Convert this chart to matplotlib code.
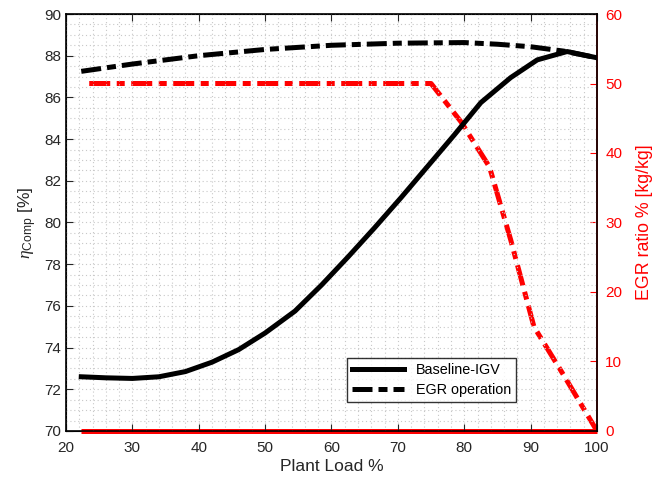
import matplotlib.pyplot as plt
import numpy as np

plt.rcParams['font.family'] = ['Liberation Sans', 'DejaVu Sans']
plt.rcParams['mathtext.fontset'] = 'custom'
plt.rcParams['mathtext.rm'] = 'Liberation Sans'
plt.rcParams['mathtext.it'] = 'Liberation Serif:italic'

# dados
load_base = [22.3, 26, 30, 34, 38, 42, 46, 50, 54.5, 58.5, 62.5, 66.5, 70.5,
             74.5, 78.5, 82.5, 87, 91, 95.5, 100]
eta_base = [72.6, 72.55, 72.52, 72.6, 72.85, 73.3, 73.9, 74.7, 75.75, 77.0,
            78.35, 79.75, 81.2, 82.7, 84.2, 85.75, 86.95, 87.8, 88.2, 87.9]

load_egr = [22.3, 30, 40, 50, 60, 70, 80, 85, 90, 95, 100]
eta_egr = [87.25, 87.6, 88.0, 88.3, 88.5, 88.6, 88.63, 88.55, 88.43, 88.22, 87.9]

load_ratio = [23.5, 75, 79.5, 83.8, 87, 90.5, 95, 100]
egr_ratio = [50, 50, 44.5, 38, 27.5, 15, 8, 0]

load_zero = [22.3, 100]
ratio_zero = [0, 0]

fig = plt.figure(figsize=(6.62, 4.83), dpi=100)
ax = fig.add_axes([0.0997, 0.1077, 0.8021, 0.8633])

dashdot = (0, (4, 1.2, 1.8, 1.2))
ax.plot(load_base, eta_base, color='black', lw=3.6, label='Baseline-IGV',
        solid_joinstyle='round', zorder=3)
ax.plot(load_egr, eta_egr, color='black', lw=3.6, ls=dashdot,
        label='EGR operation', zorder=3)

ax.set_xlim(20, 100)
ax.set_ylim(70, 90)
ax.set_xticks(np.arange(20, 101, 10))
ax.set_yticks(np.arange(70, 91, 2))
ax.set_xticks(np.arange(20, 101, 2), minor=True)
ax.set_yticks(np.arange(70, 90.1, 0.5), minor=True)
ax.grid(True, which='both', color='#c8c8c8', ls=(0, (1, 2.5)), lw=0.8)
ax.tick_params(which='major', direction='in', length=5, top=True,
               labelsize=11, colors='#262626')
ax.tick_params(axis='x', which='major', pad=7)
ax.tick_params(which='minor', length=0)
ax.set_xlabel('Plant Load %', fontsize=12.5, color='#262626', labelpad=3)
ax.set_ylabel(r'$\eta_{\rm Comp}$ [%]', fontsize=12.5, color='#262626')
for s in ax.spines.values():
    s.set_linewidth(1.2)

ax2 = ax.twinx()
ax2.plot(load_zero, ratio_zero, color='red', lw=3.6, zorder=3,
         solid_capstyle='butt', clip_on=False)
ax2.plot(load_ratio, egr_ratio, color='red', lw=3.6,
         ls=(0, (4.2, 1.3, 1.6, 1.3)), zorder=3)
ax2.set_ylim(0, 60)
ax2.set_yticks(np.arange(0, 61, 10))
ax2.tick_params(direction='in', length=5, labelsize=11, colors='red', pad=6)
ax2.spines['right'].set_color('red')
ax2.spines['right'].set_linewidth(1.2)
ax2.set_ylabel('EGR ratio % [kg/kg]', fontsize=12.8, color='red', labelpad=10)

leg = ax.legend(loc='lower left', bbox_to_anchor=(0.516, 0.053), fontsize=10.4,
                frameon=True, fancybox=False, edgecolor='black',
                handlelength=3.6, borderpad=0.35, labelspacing=0.4)
leg.get_frame().set_linewidth(1.0)
ax.set_zorder(ax2.get_zorder() + 1)
ax.patch.set_visible(False)

fig.savefig('out.png', dpi=100)
